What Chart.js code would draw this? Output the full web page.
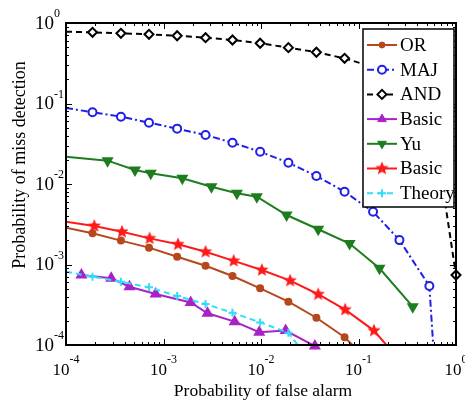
<!DOCTYPE html>
<html>
<head>
<meta charset="utf-8">
<script src="https://cdn.jsdelivr.net/npm/chart.js@4.4.1/dist/chart.umd.min.js"></script>
<style>
    body { margin: 0; background: #ffffff; }
    canvas { display: block; }
    .fontwarm { position: absolute; left: -999px; top: 0; font-family: "Liberation Serif"; }
</style>
</head>
<body>
<span class="fontwarm">Probability 10</span>
<canvas id="rocChart" width="465" height="401"></canvas>
<script>
// Values (false alarm vs miss detection, log-log)
const orX = [1e-4, 1.87e-4, 3.66e-4, 7.1e-4, 1.38e-3, 2.7e-3, 5.1e-3, 9.8e-3, 1.91e-2, 3.7e-2, 7.2e-2, 0.141];
const orY = [2.87e-3, 2.44e-3, 1.98e-3, 1.62e-3, 1.25e-3, 9.66e-4, 7.2e-4, 5.06e-4, 3.45e-4, 2.18e-4, 1.25e-4, 5.6e-5];

const majX = [1e-4, 1.87e-4, 3.66e-4, 7.1e-4, 1.38e-3, 2.7e-3, 5.1e-3, 9.8e-3, 1.91e-2, 3.7e-2, 7.2e-2, 0.141, 0.263, 0.533, 0.66];
const majY = [0.088, 0.0778, 0.0686, 0.0578, 0.0487, 0.0406, 0.0326, 0.0252, 0.0184, 0.01257, 0.00802, 0.00452, 0.00201, 0.00054, 1e-5];

const andX = [1e-4, 1.87e-4, 3.66e-4, 7.1e-4, 1.38e-3, 2.7e-3, 5.1e-3, 9.8e-3, 1.91e-2, 3.7e-2, 7.2e-2, 0.141, 0.263, 0.533, 1];
const andY = [0.78, 0.766, 0.745, 0.724, 0.695, 0.657, 0.615, 0.56, 0.494, 0.433, 0.364, 0.284, 0.19, 0.117, 7.4e-4];

const basicX = [1.44e-4, 2.91e-4, 4.48e-4, 8.3e-4, 1.9e-3, 2.83e-3, 5.37e-3, 9.6e-3, 1.79e-2, 3.57e-2];
const basicY = [7.41e-4, 6.74e-4, 5.3e-4, 4.3e-4, 3.37e-4, 2.48e-4, 1.95e-4, 1.44e-4, 1.51e-4, 9.7e-5];

const yuX = [1e-4, 2.67e-4, 5.1e-4, 7.4e-4, 1.56e-3, 3.1e-3, 5.66e-3, 9.06e-3, 1.83e-2, 3.86e-2, 8.1e-2, 0.164, 0.36];
const yuY = [0.0218, 0.0195, 0.0149, 0.0136, 0.01177, 0.00925, 0.00766, 0.00695, 0.00412, 0.00274, 0.00182, 8.97e-4, 2.99e-4];

const basic2X = [1e-4, 1.95e-4, 3.75e-4, 7.2e-4, 1.41e-3, 2.7e-3, 5.24e-3, 1.02e-2, 1.99e-2, 3.86e-2, 7.3e-2, 0.144, 0.263];
const basic2Y = [3.40e-3, 3.01e-3, 2.55e-3, 2.11e-3, 1.78e-3, 1.44e-3, 1.11e-3, 8.54e-4, 6.3e-4, 4.27e-4, 2.75e-4, 1.51e-4, 6.5e-5];

const theoryX = [1e-4, 1.87e-4, 3.66e-4, 7.1e-4, 1.38e-3, 2.7e-3, 5.1e-3, 9.8e-3, 1.91e-2, 3.7e-2];
const theoryY = [8.14e-4, 7.05e-4, 6.1e-4, 5.2e-4, 4.06e-4, 3.23e-4, 2.52e-4, 1.91e-4, 1.42e-4, 5e-5];

const legendLabels = ['OR', 'MAJ', 'AND', 'Basic', 'Yu', 'Basic', 'Theory'];
const tickExponents = [-4, -3, -2, -1, 0];
const xAxisTitle = 'Probability of false alarm';
const yAxisTitle = 'Probability of miss detection';

const SERIF = '"Liberation Serif", "Times New Roman", "DejaVu Serif", serif';
const toPoints = (xs, ys) => xs.map((v, i) => ({ x: v, y: ys[i] }));

// filled pentagram marker (MATLAB 'p')
function makeStar(color, r) {
    const size = Math.ceil(r * 2 + 2);
    const c = document.createElement('canvas');
    c.width = size; c.height = size;
    const g = c.getContext('2d');
    g.fillStyle = color;
    g.beginPath();
    for (let i = 0; i < 10; i++) {
        const ang = -Math.PI / 2 + i * Math.PI / 5;
        const rad = i % 2 ? r * 0.45 : r;
        const px = size / 2 + rad * Math.cos(ang), py = size / 2 + rad * Math.sin(ang);
        if (i === 0) g.moveTo(px, py); else g.lineTo(px, py);
    }
    g.closePath();
    g.fill();
    return c;
}

const starImg = makeStar('#ff1a1a', 7);
const hideEnds = (first, last) => ctx => {
    const n = ctx.dataset.data.length;
    if ((first && ctx.dataIndex === 0) || (last && ctx.dataIndex === n - 1)) return 0;
    return ctx.dataset.markerSize;
};

const datasets = [
    {
        label: legendLabels[0], data: toPoints(orX, orY),
        borderColor: '#b5481c', backgroundColor: '#b5481c', borderWidth: 2,
        pointStyle: 'circle', markerSize: 3, pointRadius: hideEnds(true, false), order: 7
    },
    {
        label: legendLabels[1], data: toPoints(majX, majY),
        borderColor: '#1f1fe6', backgroundColor: '#ffffff', borderWidth: 2, borderDash: [7, 3, 2, 3],
        pointStyle: 'circle', markerSize: 4, pointBorderWidth: 2, pointRadius: hideEnds(true, true), order: 6
    },
    {
        label: legendLabels[2], data: toPoints(andX, andY),
        borderColor: '#000000', backgroundColor: '#ffffff', borderWidth: 2, borderDash: [6, 4],
        pointStyle: 'rectRot', markerSize: 4.5, pointBorderWidth: 2, pointRadius: hideEnds(true, false),
        clip: 10, order: 5
    },
    {
        label: legendLabels[3], data: toPoints(basicX, basicY),
        borderColor: '#a822c8', backgroundColor: '#a822c8', borderWidth: 2,
        pointStyle: 'triangle', markerSize: 5, pointRadius: hideEnds(false, false), clip: 8, order: 4
    },
    {
        label: legendLabels[4], data: toPoints(yuX, yuY),
        borderColor: '#1e7d1e', backgroundColor: '#1e7d1e', borderWidth: 2,
        pointStyle: 'triangle', pointRotation: 180, markerSize: 5, pointRadius: hideEnds(true, false),
        clip: 8, order: 3
    },
    {
        label: legendLabels[5], data: toPoints(basic2X, basic2Y),
        borderColor: '#ff1a1a', backgroundColor: '#ff1a1a', borderWidth: 2,
        pointStyle: starImg, markerSize: 7, pointRadius: hideEnds(true, false), order: 2
    },
    {
        label: legendLabels[6], data: toPoints(theoryX, theoryY),
        borderColor: '#33ddf5', backgroundColor: '#33ddf5', borderWidth: 2, borderDash: [6, 4],
        pointStyle: 'cross', markerSize: 4, pointBorderWidth: 2, pointRadius: hideEnds(true, false), order: 1
    }
];

// frame, inward ticks, superscript tick labels, titles and boxed legend
const matlabAxes = {
    id: 'matlabAxes',
    afterDraw(chart) {
        const { ctx, chartArea: a, scales: { x, y } } = chart;
        ctx.save();
        ctx.strokeStyle = '#000000';
        ctx.fillStyle = '#000000';

        // tick marks on all four sides
        ctx.lineWidth = 1;
        tickExponents.forEach(e => {
            for (let m = 1; m <= 9; m++) {
                const v = m * Math.pow(10, e);
                if (v > 1) break;
                const len = m === 1 ? 6 : 3;
                const px = Math.round(x.getPixelForValue(v)) + 0.5;
                const py = Math.round(y.getPixelForValue(v)) + 0.5;
                ctx.beginPath();
                ctx.moveTo(px, a.bottom); ctx.lineTo(px, a.bottom - len);
                ctx.moveTo(px, a.top); ctx.lineTo(px, a.top + len);
                ctx.moveTo(a.left, py); ctx.lineTo(a.left + len, py);
                ctx.moveTo(a.right, py); ctx.lineTo(a.right - len, py);
                ctx.stroke();
            }
        });

        ctx.lineWidth = 2;
        ctx.strokeRect(a.left, a.top, a.right - a.left, a.bottom - a.top);

        // tick labels 10^n
        ctx.textBaseline = 'middle';
        tickExponents.forEach(e => {
            const exp = e === 0 ? '0' : '-' + Math.abs(e);
            // y axis
            const py = y.getPixelForValue(Math.pow(10, e));
            ctx.font = '19px ' + SERIF;
            ctx.textAlign = 'right';
            ctx.fillText('10', 54, py + 1);
            ctx.font = '12px ' + SERIF;
            ctx.textAlign = 'left';
            ctx.fillText(exp, 54, py - 9);
            // x axis
            const px = x.getPixelForValue(Math.pow(10, e));
            ctx.font = '17px ' + SERIF;
            const w10 = ctx.measureText('10').width;
            ctx.font = '12px ' + SERIF;
            const wExp = ctx.measureText(exp).width;
            const left = px - (w10 + wExp) / 2;
            ctx.font = '17px ' + SERIF;
            ctx.fillText('10', left, 371);
            ctx.font = '12px ' + SERIF;
            ctx.fillText(exp, left + w10, 360);
        });

        // axis titles
        ctx.textAlign = 'center';
        ctx.font = '17.5px ' + SERIF;
        ctx.fillText(xAxisTitle, 263, 391);
        ctx.save();
        ctx.translate(20, 165);
        ctx.rotate(-Math.PI / 2);
        ctx.font = '18px ' + SERIF;
        ctx.fillText(yAxisTitle, 0, 0);
        ctx.restore();

        // legend box
        const box = { l: 363, t: 29, r: 454, b: 207 };
        ctx.fillStyle = '#ffffff';
        ctx.fillRect(box.l, box.t, box.r - box.l, box.b - box.t);
        ctx.lineWidth = 1.5;
        ctx.strokeStyle = '#000000';
        ctx.strokeRect(box.l, box.t, box.r - box.l, box.b - box.t);

        chart.data.datasets.forEach((ds, i) => {
            const cy = 45 + i * 24.7;
            ctx.save();
            ctx.strokeStyle = ds.borderColor;
            ctx.lineWidth = ds.borderWidth;
            ctx.setLineDash(ds.borderDash || []);
            ctx.beginPath();
            ctx.moveTo(367, cy);
            ctx.lineTo(397, cy);
            ctx.stroke();
            ctx.setLineDash([]);
            ctx.fillStyle = ds.backgroundColor;
            ctx.lineWidth = ds.pointBorderWidth || 1;
            Chart.helpers.drawPoint(ctx, {
                pointStyle: ds.pointStyle,
                rotation: ds.pointRotation || 0,
                radius: ds.markerSize,
                borderWidth: ds.pointBorderWidth || 1
            }, 382, cy);
            ctx.restore();
            ctx.fillStyle = '#000000';
            ctx.textAlign = 'left';
            ctx.font = '19px ' + SERIF;
            ctx.fillText(ds.label, 400, cy + 1);
        });
        ctx.restore();
    }
};

function drawChart() {
    new Chart(document.getElementById('rocChart'), {
        type: 'line',
        data: { datasets: datasets },
        plugins: [matlabAxes],
        options: {
            responsive: false,
            devicePixelRatio: 1,
            animation: false,
            layout: { padding: { left: 66, right: 6, top: 23, bottom: 56 } },
            elements: { line: { tension: 0 } },
            scales: {
                x: { type: 'logarithmic', min: 1e-4, max: 1, display: false },
                y: { type: 'logarithmic', min: 1e-4, max: 1, display: false }
            },
            plugins: {
                legend: { display: false },
                tooltip: { enabled: false }
            }
        }
    });
}

document.fonts.load('18px "Liberation Serif"').then(drawChart, drawChart);
</script>
</body>
</html>
